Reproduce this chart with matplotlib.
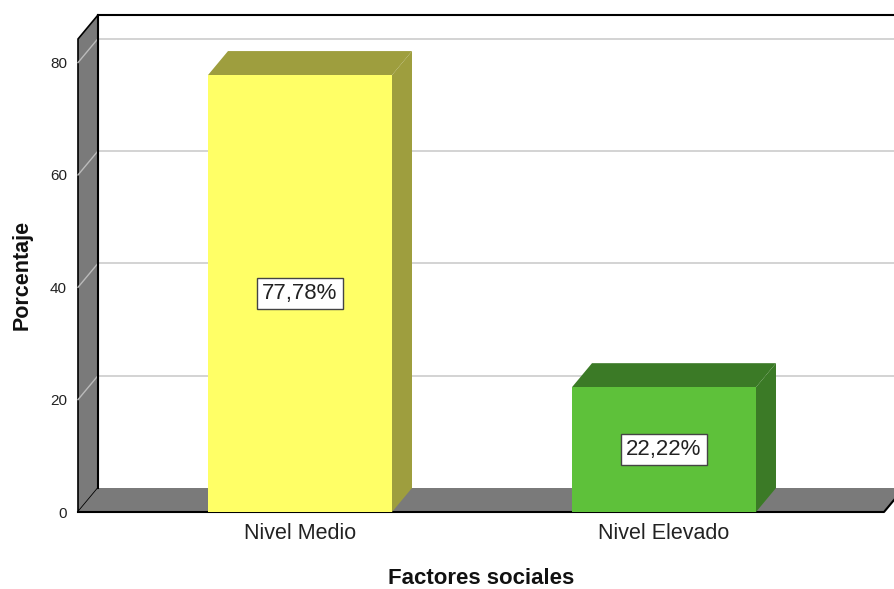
import matplotlib.pyplot as plt
from matplotlib.patches import Polygon, Rectangle

plt.rcParams['font.family'] = ['Liberation Sans', 'DejaVu Sans']

categories = ['Nivel Medio', 'Nivel Elevado']
percentages = [77.78, 22.22]
value_labels = ['77,78%', '22,22%']
front_colors = ['#FFFF66', '#5EC13A']
shade_colors = ['#9E9E3E', '#3B7A26']
y_ticks = [0, 20, 40, 60, 80]

W, H = 894, 589
fig = plt.figure(figsize=(W / 100, H / 100), dpi=100)

# front plane of the box, in pixels
px_left, px_right, px_bottom, px_top = 78, 884, 512, 39
ax = fig.add_axes([px_left / W, (H - px_bottom) / H,
                   (px_right - px_left) / W, (px_bottom - px_top) / H])

x0, x1 = (px_left - 300) / 364, (px_right - 300) / 364
ymax = 84.2
ax.set_xlim(x0, x1)
ax.set_ylim(0, ymax)
for s in ax.spines.values():
    s.set_visible(False)

# depth offset of the 3D effect (data units)
dx = 20 / 364
dy = 24 / ((px_bottom - px_top) / ymax)

wall = '#7A7A7A'
grid = '#CCCCCC'

# back wall
ax.add_patch(Rectangle((x0 + dx, dy), x1 - x0 + 1, ymax, fc='white', ec='none',
                       clip_on=False, zorder=0))
ax.plot([x0 + dx, x1 + dx + 1], [ymax + dy, ymax + dy], color='black', lw=1.5,
        clip_on=False, zorder=1)
# left wall
ax.add_patch(Polygon([(x0, 0), (x0 + dx, dy), (x0 + dx, ymax + dy), (x0, ymax)],
                     closed=True, fc=wall, ec='black', lw=1.2, clip_on=False, zorder=1))
# floor
ax.add_patch(Polygon([(x0, 0), (x1, 0), (x1 + dx, dy), (x0 + dx, dy)],
                     closed=True, fc=wall, ec='none', clip_on=False, zorder=1))
ax.plot([x0, x1, x1 + dx], [0, 0, dy], color='black', lw=1.5, clip_on=False, zorder=2)
ax.plot([x0 + dx, x0 + dx], [dy, ymax + dy], color='black', lw=1.5, clip_on=False, zorder=2)

# gridlines on the back wall and left wall
for v in y_ticks[1:]:
    ax.plot([x0 + dx, x1 + dx + 1], [v + dy, v + dy], color=grid, lw=1.2,
            clip_on=False, zorder=0.5)
    ax.plot([x0, x0 + dx], [v, v + dy], color='#BBBBBB', lw=1, clip_on=False, zorder=1.5)

# 3D bars
bw = 184 / 364
for i, (val, fc, sc, lab) in enumerate(zip(percentages, front_colors, shade_colors, value_labels)):
    l, r = i - bw / 2, i + bw / 2
    ax.add_patch(Polygon([(l, val), (l + dx, val + dy), (r + dx, val + dy), (r, val)],
                         closed=True, fc=sc, ec='none', clip_on=False, zorder=3))
    ax.add_patch(Polygon([(r, 0), (r + dx, dy), (r + dx, val + dy), (r, val)],
                         closed=True, fc=sc, ec='none', clip_on=False, zorder=3))
    ax.add_patch(Rectangle((l, 0), bw, val, fc=fc, ec='none', clip_on=False, zorder=4))
    ax.text(i, val / 2, lab, ha='center', va='center', fontsize=16, color='#222222',
            zorder=5, bbox=dict(boxstyle='square,pad=0.22', fc='white', ec='#444444', lw=1))

ax.set_yticks(y_ticks)
ax.set_yticklabels([str(t) for t in y_ticks], fontsize=11, color='#222222')
ax.set_xticks(range(len(categories)))
ax.set_xticklabels(categories, fontsize=15.5, color='#222222')
ax.tick_params(axis='y', length=0, pad=8)
ax.tick_params(axis='x', length=0, pad=8)

fig.text(481 / W, 1 - 578 / H, 'Factores sociales', ha='center', va='center',
         fontsize=16, fontweight='bold', color='#111111')
fig.text(22 / W, 1 - 275 / H, 'Porcentaje', ha='center', va='center',
         rotation=90, fontsize=15.5, fontweight='bold', color='#111111')

fig.savefig('out.png', dpi=100)
